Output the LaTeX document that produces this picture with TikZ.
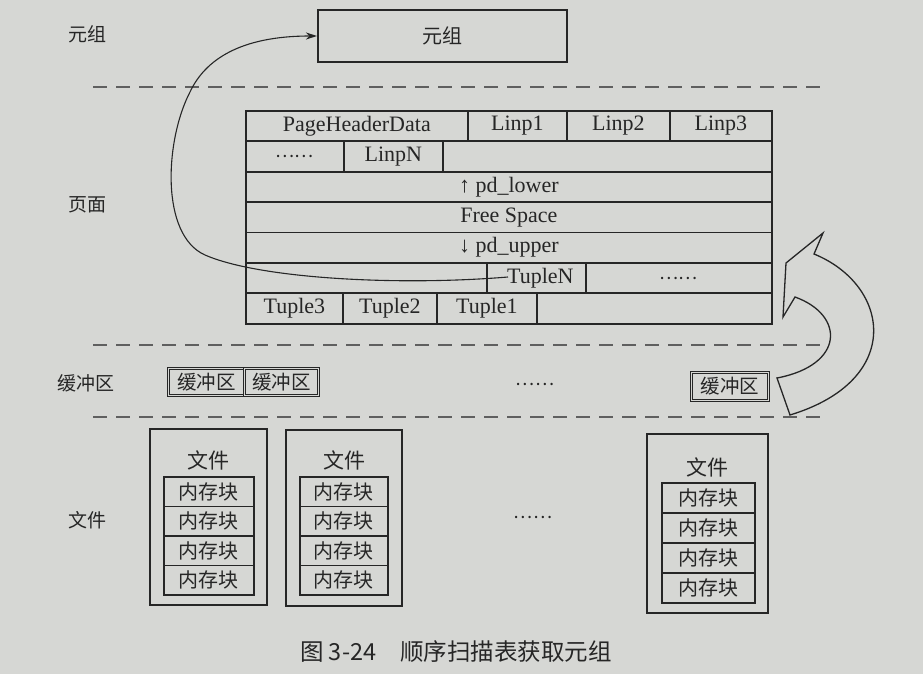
\documentclass[tikz,border=0pt]{standalone}
\usepackage{fontspec}
\setmainfont{Liberation Serif}
\newfontfamily\cjk{Noto Sans CJK SC}
\usetikzlibrary{arrows.meta}
\definecolor{paper}{RGB}{214,215,212}
\definecolor{ink}{RGB}{38,38,38}
\definecolor{rule}{RGB}{95,95,95}

\begin{document}
\begin{tikzpicture}[x=1pt,y=-1pt,
  every node/.style={text=ink},
  cn/.style={font=\cjk\fontsize{19}{22}\selectfont},
  cell/.style={draw=ink, line width=1.7pt, anchor=north west, inner sep=0pt,
    minimum height=30.4pt, font=\fontsize{22}{26}\selectfont},
  frame/.style={draw=ink, line width=2.1pt, inner sep=0pt},
  block/.style={draw=ink, line width=1.9pt, anchor=north west, inner sep=0pt,
    font=\cjk\fontsize{20}{24}\selectfont},
  buf/.style={draw=ink, double=paper, double distance=1.1pt, line width=0.9pt,
    anchor=north west, inner sep=0pt, font=\cjk\fontsize{19.5}{22}\selectfont},
  sep/.style={draw=rule, line width=1.4pt, dash pattern=on 14pt off 9pt},
  arr/.style={draw=ink, line width=1.1pt, -{Stealth[length=11pt,width=7pt]}}
]
\useasboundingbox[fill=paper] (0,0) rectangle (923,674);

% section labels
\node[cn] (lTuple) at (87,34) {元组};
\node[cn] (lPage) at (87,205) {页面};
\node[cn] (lBuf) at (86,383) {缓冲区};
\node[cn] (lFile) at (87,520) {文件};

% separators
\coordinate (s1a) at (93,87);  \coordinate (s1b) at (820,87);
\coordinate (s2a) at (93,345); \coordinate (s2b) at (820,345);
\coordinate (s3a) at (93,417); \coordinate (s3b) at (820,417);
\draw[sep] (s1a) -- (s1b);
\draw[sep] (s2a) -- (s2b);
\draw[sep] (s3a) -- (s3b);

% the fetched tuple
\node[frame, minimum width=249pt, minimum height=52pt, font=\cjk\fontsize{20}{24}\selectfont]
  (tup) at (442.5,36) {元组};

% page layout
\node[cell, minimum width=222pt] (phd) at (245,110) {PageHeaderData};
\node[cell, minimum width=99pt]  (lp1) at (467,110) {Linp1};
\node[cell, minimum width=103pt] (lp2) at (566,110) {Linp2};
\node[cell, minimum width=102pt] (lp3) at (669,110) {Linp3};

\node[cell, minimum width=98pt, font=\cjk\fontsize{18}{22}\selectfont] (lpd) at (245,140.4) {……};
\node[cell, minimum width=99pt]  (lpn) at (343,140.4) {LinpN};
\node[cell, minimum width=329pt] (lpe) at (442,140.4) {};

\node[cell, minimum width=526pt] (low) at (245,170.8) {↑ pd\_lower};
\node[cell, minimum width=526pt] (fre) at (245,201.2) {Free Space};
\node[cell, minimum width=526pt] (upp) at (245,231.6) {↓ pd\_upper};

\node[cell, minimum width=241pt] (t6e) at (245,262) {};
\node[cell, minimum width=99pt]  (tpn) at (486,262) {\hspace*{8pt}TupleN};
\node[cell, minimum width=186pt, font=\cjk\fontsize{18}{22}\selectfont] (t6d) at (585,262) {……};

\node[cell, minimum width=97pt]  (tp3) at (245,292.4) {Tuple3};
\node[cell, minimum width=94pt]  (tp2) at (342,292.4) {Tuple2};
\node[cell, minimum width=100pt] (tp1) at (436,292.4) {Tuple1};
\node[cell, minimum width=235pt] (t7e) at (536,292.4) {};

% sequential scan hands the tuple up
\coordinate (tstart) at (508,277);
\draw[arr] (tstart) .. controls (400,286) and (260,279) .. (205,255)
  .. controls (160,235) and (165,140) .. (190,92)
  .. controls (205,60) and (240,36) .. (tup.west);

% buffers
\node[buf, minimum width=76pt, minimum height=27pt] (b1) at (168,368) {缓冲区};
\node[buf, minimum width=74pt, minimum height=27pt] (b2) at (244,368) {缓冲区};
\node[cn, font=\cjk\fontsize{18}{22}\selectfont] (bdots) at (535,384) {……};
\node[buf, minimum width=77pt, minimum height=28pt] (bn) at (691,372) {缓冲区};

% block arrow from the buffer back into the page
\draw[draw=ink, line width=1.3pt, line join=miter, fill=paper]
  (814,254) .. controls (890,285) and (905,380) .. (790,415)
  -- (777,378)
  .. controls (845,365) and (845,315) .. (795,297)
  -- (783,317) -- (786,263) -- (823,233) -- cycle;

% files
\node[frame, minimum width=117pt, minimum height=176pt] (f1) at (208.5,517) {};
\node[cn, font=\cjk\fontsize{21}{24}\selectfont] (f1t) at (208,460) {文件};
\foreach \k/\y in {1/476,2/505.5,3/535,4/564.5}
  \node[block, minimum width=90pt, minimum height=29.5pt] (f1b\k) at (163,\y) {内存块};

\node[frame, minimum width=116pt, minimum height=176pt] (f2) at (344,518) {};
\node[cn, font=\cjk\fontsize{21}{24}\selectfont] (f2t) at (344,460) {文件};
\foreach \k/\y in {1/476,2/505.5,3/535,4/564.5}
  \node[block, minimum width=88pt, minimum height=29.5pt] (f2b\k) at (299,\y) {内存块};

\node[cn, font=\cjk\fontsize{18}{22}\selectfont] (fdots) at (533,517) {……};

\node[frame, minimum width=121pt, minimum height=179pt] (f3) at (707.5,523.5) {};
\node[cn, font=\cjk\fontsize{21}{24}\selectfont] (f3t) at (707,467) {文件};
\foreach \k/\y in {1/482,2/512,3/542,4/572}
  \node[block, minimum width=93pt, minimum height=30pt] (f3b\k) at (661,\y) {内存块};

% caption
\node[font=\cjk\fontsize{23.5}{28}\selectfont] (cap) at (456,652) {图 3-24\hspace{24pt}顺序扫描表获取元组};
\end{tikzpicture}
\end{document}
